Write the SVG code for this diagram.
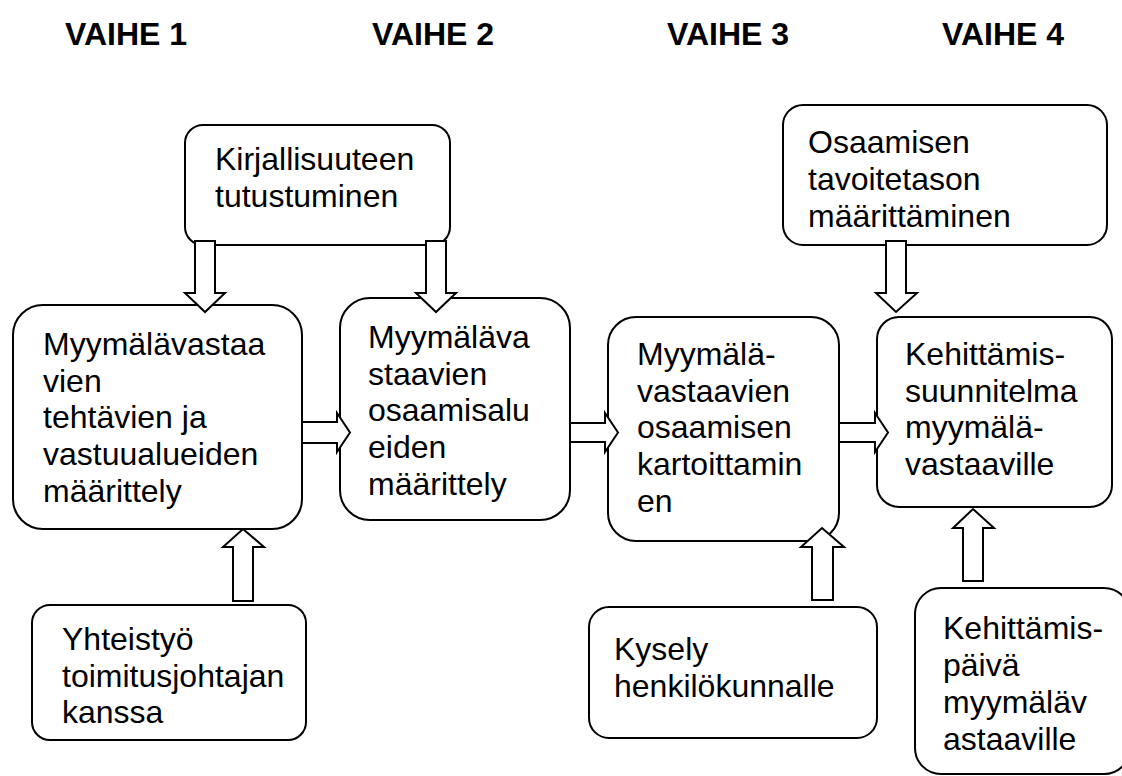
<svg xmlns="http://www.w3.org/2000/svg" width="1122" height="776" viewBox="0 0 1122 776">
  <style>
    .box { fill: #ffffff; stroke: #000000; stroke-width: 2; }
    .arrow { fill: #ffffff; stroke: #000000; stroke-width: 2; stroke-linejoin: miter; }
    .label { font-family: "Liberation Sans", Arial, sans-serif; font-size: 32px; fill: #000000; }
    .phase { font-family: "Liberation Sans", Arial, sans-serif; font-size: 32px; font-weight: bold; fill: #000000; }
  </style>
  <rect width="1122" height="776" fill="#ffffff"/>

  <!-- phase headings -->
  <g id="phases">
    <text class="phase" x="65" y="45">VAIHE 1</text>
    <text class="phase" x="372" y="45">VAIHE 2</text>
    <text class="phase" x="667" y="45">VAIHE 3</text>
    <text class="phase" x="942" y="45">VAIHE 4</text>
  </g>

  <!-- nodes -->
  <g id="kirjallisuus">
    <rect class="box" x="185" y="125" width="265" height="120" rx="18"/>
    <text class="label" x="215" y="170">Kirjallisuuteen</text>
    <text class="label" x="215" y="207">tutustuminen</text>
  </g>

  <g id="tehtavat">
    <rect class="box" x="13" y="305" width="289" height="224" rx="30"/>
    <text class="label" x="43" y="355">Myymälävastaa</text>
    <text class="label" x="43" y="392">vien</text>
    <text class="label" x="43" y="428">tehtävien ja</text>
    <text class="label" x="43" y="465">vastuualueiden</text>
    <text class="label" x="43" y="502">määrittely</text>
  </g>

  <g id="osaamisalueet">
    <rect class="box" x="340" y="298" width="230" height="222" rx="30"/>
    <text class="label" x="368" y="348">Myymäläva</text>
    <text class="label" x="368" y="385">staavien</text>
    <text class="label" x="368" y="421">osaamisalu</text>
    <text class="label" x="368" y="458">eiden</text>
    <text class="label" x="368" y="495">määrittely</text>
  </g>

  <g id="kartoitus">
    <rect class="box" x="608" y="317" width="231" height="224" rx="28"/>
    <text class="label" x="637" y="365">Myymälä-</text>
    <text class="label" x="637" y="402">vastaavien</text>
    <text class="label" x="637" y="438">osaamisen</text>
    <text class="label" x="637" y="475">kartoittamin</text>
    <text class="label" x="637" y="512">en</text>
  </g>

  <g id="kehittamissuunnitelma">
    <rect class="box" x="877" y="317" width="235" height="190" rx="22"/>
    <text class="label" x="905" y="365">Kehittämis-</text>
    <text class="label" x="905" y="402">suunnitelma</text>
    <text class="label" x="905" y="438">myymälä-</text>
    <text class="label" x="905" y="475">vastaaville</text>
  </g>

  <g id="tavoitetaso">
    <rect class="box" x="783" y="105" width="324" height="140" rx="20"/>
    <text class="label" x="808" y="153">Osaamisen</text>
    <text class="label" x="808" y="190">tavoitetason</text>
    <text class="label" x="808" y="227">määrittäminen</text>
  </g>

  <g id="yhteistyo">
    <rect class="box" x="32" y="605" width="274" height="135" rx="18"/>
    <text class="label" x="62" y="650">Yhteistyö</text>
    <text class="label" x="62" y="687">toimitusjohtajan</text>
    <text class="label" x="62" y="723">kanssa</text>
  </g>

  <g id="kysely">
    <rect class="box" x="589" y="607" width="288" height="131" rx="20"/>
    <text class="label" x="614" y="660">Kysely</text>
    <text class="label" x="614" y="697">henkilökunnalle</text>
  </g>

  <g id="kehittamispaiva">
    <rect class="box" x="915" y="588" width="215" height="186" rx="26"/>
    <text class="label" x="943" y="639">Kehittämis-</text>
    <text class="label" x="943" y="676">päivä</text>
    <text class="label" x="943" y="713">myymäläv</text>
    <text class="label" x="943" y="750">astaaville</text>
  </g>

  <!-- block arrows between the nodes -->
  <g id="connectors">
    <!-- from literature down to phases 1 and 2 -->
    <polygon class="arrow" points="195,241 215,241 215,293 225,293 205,312 185,293 195,293"/>
    <polygon class="arrow" points="426,241 446,241 446,293 456,293 436,312 416,293 426,293"/>
    <!-- horizontal flow between phases -->
    <polygon class="arrow" points="302,422 337,422 337,413 350,432.5 337,452 337,443 302,443"/>
    <polygon class="arrow" points="570,423 605,423 605,413 618,432.5 605,452 605,442 570,442"/>
    <polygon class="arrow" points="839,423 875,423 875,413 888,432.5 875,452 875,442 839,442"/>
    <!-- target level down into development plan -->
    <polygon class="arrow" points="886,241 906,241 906,293 917,293 896,312 876,293 886,293"/>
    <!-- upward inputs -->
    <polygon class="arrow" points="233,601 253,601 253,547 264,547 243,529 223,547 233,547"/>
    <polygon class="arrow" points="812,600 833,600 833,547 844,547 822,528 801,547 812,547"/>
    <polygon class="arrow" points="963,581 983,581 983,528 994,528 973,509 953,528 963,528"/>
  </g>
</svg>
